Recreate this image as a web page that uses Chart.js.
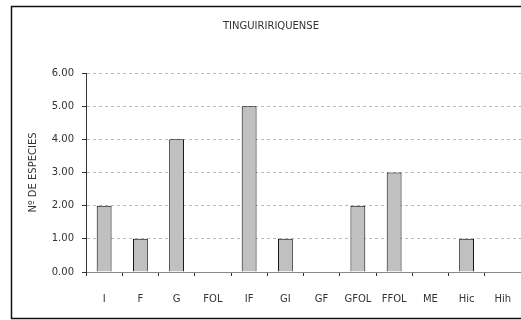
<!DOCTYPE html>
<html>
<head>
<meta charset="utf-8">
<script src="https://cdn.jsdelivr.net/npm/chart.js@4"></script>
<style>
  html, body { margin: 0; padding: 0; background: #fff; overflow: hidden; }
  #wrap { position: absolute; left: 0; top: 0; width: 540px; height: 320px; }
</style>
</head>
<body>
<div id="wrap"><canvas id="grupos" width="540" height="320"></canvas></div>
<script>
// species count per trophic group
const categorias = ['I', 'F', 'G', 'FOL', 'IF', 'GI', 'GF', 'GFOL', 'FFOL', 'ME', 'Hic', 'Hih'];
const especies = [2, 1, 4, 0, 5, 1, 0, 2, 3, 0, 1, 0];
const titulo = 'TINGUIRIRIQUENSE';
const tituloEje = 'Nº DE ESPECIES';

const FONT = "'DejaVu Sans', sans-serif";
const TXT = '#333';

// frame around the whole chart (right side runs off the page)
const marco = {
    id: 'marco',
    beforeDraw(chart) {
        const c = chart.ctx;
        c.save();
        c.fillStyle = '#fff';
        c.fillRect(0, 0, chart.width, chart.height);
        c.strokeStyle = '#111';
        c.lineWidth = 1.5;
        c.strokeRect(11.5, 6.5, 540, 312);
        c.restore();
    }
};

new Chart(document.getElementById('grupos'), {
    type: 'bar',
    data: {
        labels: categorias,
        datasets: [{
            data: especies,
            backgroundColor: '#C0C0C0',
            borderColor: '#000',
            borderWidth: 1,
            barPercentage: 0.41,
            categoryPercentage: 1
        }]
    },
    options: {
        responsive: false,
        animation: false,
        layout: { padding: { left: 21, right: 19, top: 0, bottom: 0 } },
        plugins: {
            legend: { display: false },
            tooltip: { enabled: false },
            title: {
                display: true,
                text: titulo,
                color: TXT,
                font: { family: FONT, size: 10, weight: 'normal' },
                padding: { top: 20, bottom: 41 }
            }
        },
        scales: {
            x: {
                afterFit: s => { s.height = 48; },
                grid: { drawOnChartArea: false, drawTicks: true, tickLength: 4, tickColor: '#333', offset: true },
                border: { color: '#888', width: 1 },
                ticks: { color: TXT, padding: 17, font: { family: FONT, size: 10 }, maxRotation: 0, autoSkip: false }
            },
            y: {
                min: 0, max: 6,
                afterFit: s => { s.width = 65; },
                grid: { color: '#bbb', lineWidth: 1, tickLength: 4, tickColor: '#333', tickBorderDash: [] },
                border: { color: '#333', width: 1, dash: [3, 3] },
                ticks: {
                    stepSize: 1, padding: 8, color: TXT,
                    font: { family: FONT, size: 10 },
                    callback: v => v.toFixed(2)
                },
                title: {
                    display: true, text: tituloEje, color: TXT,
                    font: { family: FONT, size: 10 },
                    padding: { top: 6, bottom: 0 }
                }
            }
        }
    },
    plugins: [marco]
});
</script>
</body>
</html>
